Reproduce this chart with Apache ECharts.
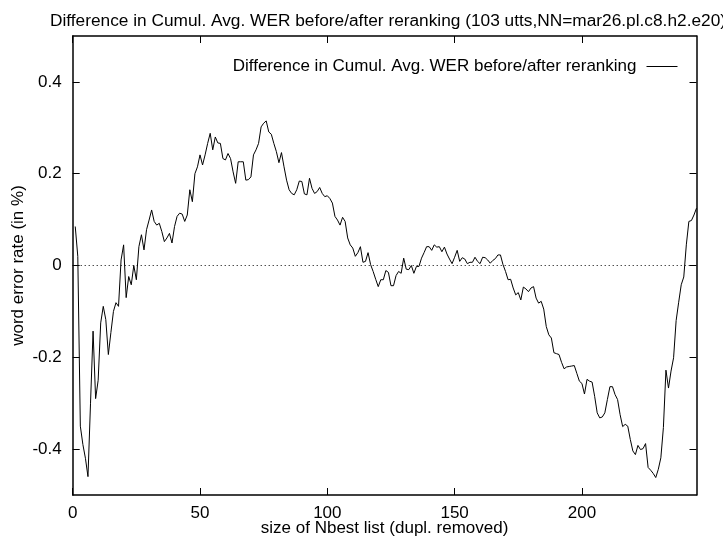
<!DOCTYPE html>
<html>
<head>
<meta charset="utf-8">
<script src="https://cdn.jsdelivr.net/npm/echarts@6/dist/echarts.min.js"></script>
<style>
  html, body { margin: 0; padding: 0; background: #fff; }
  #chart { width: 723px; height: 537px; }
</style>
</head>
<body>
<div id="chart"></div>
<script>
const seriesName = 'Difference in Cumul. Avg. WER before/after reranking';
const xTicks = [0, 50, 100, 150, 200];
const yTicks = [-0.4, -0.2, 0, 0.2, 0.4];

// difference values for Nbest sizes 1..245
const werDiff = [
  0.085, 0.02, -0.35, -0.39, -0.42, -0.46, -0.30, -0.143, -0.29, -0.25,
  -0.125, -0.089, -0.118, -0.194, -0.146, -0.10, -0.081, -0.089, 0.012, 0.045,
  -0.07, -0.024, -0.042, 0.0, -0.031, 0.041, 0.067, 0.034, 0.078, 0.099,
  0.121, 0.096, 0.088, 0.092, 0.074, 0.052, 0.06, 0.07, 0.049, 0.085,
  0.107, 0.114, 0.112, 0.096, 0.11, 0.165, 0.139, 0.20, 0.215, 0.241,
  0.219, 0.241, 0.266, 0.288, 0.252, 0.28, 0.267, 0.266, 0.233, 0.23,
  0.244, 0.233, 0.204, 0.179, 0.226, 0.226, 0.226, 0.186, 0.187, 0.193,
  0.241, 0.252, 0.266, 0.302, 0.31, 0.315, 0.291, 0.286, 0.266, 0.248,
  0.224, 0.246, 0.215, 0.186, 0.165, 0.157, 0.154, 0.165, 0.184, 0.183,
  0.156, 0.154, 0.19, 0.168, 0.157, 0.161, 0.17, 0.157, 0.15, 0.152,
  0.146, 0.136, 0.107, 0.099, 0.088, 0.105, 0.096, 0.06, 0.045, 0.038,
  0.02, 0.028, 0.041, 0.007, 0.009, 0.028, 0.002, -0.013, -0.03, -0.046,
  -0.031, -0.031, -0.011, -0.015, -0.044, -0.044, -0.022, -0.013, -0.017, 0.016,
  -0.008, -0.009, 0.0, -0.017, -0.002, -0.002, 0.016, 0.028, 0.041, 0.041,
  0.033, 0.045, 0.04, 0.041, 0.03, 0.04, 0.025, 0.014, 0.004, 0.018,
  0.033, 0.009, 0.017, 0.014, 0.004, 0.007, 0.007, 0.018, 0.009, 0.004,
  0.018, 0.017, 0.012, 0.005, 0.011, 0.015, 0.023, 0.023, 0.002, -0.013,
  -0.031, -0.03, -0.049, -0.064, -0.059, -0.075, -0.047, -0.051, -0.057, -0.049,
  -0.046, -0.071, -0.082, -0.078, -0.095, -0.133, -0.151, -0.158, -0.19, -0.192,
  -0.194, -0.211, -0.225, -0.221, -0.22, -0.219, -0.218, -0.235, -0.252, -0.257,
  -0.28, -0.248, -0.252, -0.254, -0.285, -0.321, -0.332, -0.33, -0.321, -0.292,
  -0.264, -0.264, -0.281, -0.292, -0.325, -0.351, -0.346, -0.35, -0.379, -0.404,
  -0.412, -0.392, -0.401, -0.399, -0.388, -0.44, -0.446, -0.453, -0.462, -0.444,
  -0.419, -0.353, -0.228, -0.267, -0.23, -0.201, -0.12, -0.08, -0.042, -0.025,
  0.045, 0.096, 0.098, 0.11, 0.125
];
const nbestSize = werDiff.map((v, i) => i + 1);

const chart = echarts.init(document.getElementById('chart'));
const font = 'Liberation Sans, Arial, Helvetica, sans-serif';
const axisLine = { show: true, onZero: false, lineStyle: { color: '#000', width: 1.5 } };
const tickStyle = { color: '#000', width: 1 };
const txt = { fontSize: 17, color: '#000', fontFamily: font };

const fmt = v => (v === 0 ? '0' : v.toFixed(1));

chart.setOption({
  animation: false,
  textStyle: { fontFamily: font },
  title: {
    text: 'Difference in Cumul. Avg. WER before/after reranking (103 utts,NN=mar26.pl.c8.h2.e20)',
    left: 383,
    textAlign: 'center',
    top: 8,
    textStyle: Object.assign({}, txt, { fontWeight: 'normal', fontSize: 17.3 })
  },
  legend: {
    orient: 'horizontal',
    left: 'auto',
    right: 40,
    top: 53,
    bottom: 'auto',
    align: 'right',
    itemWidth: 31,
    itemHeight: 14,
    textStyle: Object.assign({ padding: [0, 5, 0, 0] }, txt),
    itemStyle: { color: 'transparent', borderWidth: 0, opacity: 0 },
    lineStyle: { color: '#000', width: 1 },
    data: [seriesName]
  },
  grid: { left: 72.7, right: 26.5, top: 36, bottom: 42, containLabel: false, outerBoundsMode: 'none' },
  xAxis: [{
    type: 'value', min: 0, max: 245,
    name: 'size of Nbest list (dupl. removed)',
    nameLocation: 'middle', nameGap: 25, nameMoveOverlap: false,
    nameTextStyle: txt,
    axisLine: axisLine,
    axisTick: { inside: true, length: 7, lineStyle: tickStyle, customValues: xTicks },
    axisLabel: Object.assign({ margin: 10, customValues: xTicks }, txt),
    splitLine: { show: false }
  }, {
    type: 'value', min: 0, max: 245, position: 'top',
    axisLine: axisLine,
    axisTick: { inside: true, length: 7, lineStyle: tickStyle, customValues: xTicks },
    axisLabel: { show: false },
    splitLine: { show: false }
  }],
  yAxis: [{
    type: 'value', min: -0.5, max: 0.5,
    name: 'word error rate (in %)',
    nameLocation: 'middle', nameGap: 46, nameMoveOverlap: false,
    nameTextStyle: txt,
    axisLine: axisLine,
    axisTick: { inside: true, length: 7, lineStyle: tickStyle, customValues: yTicks },
    axisLabel: Object.assign({ margin: 11, customValues: yTicks, formatter: fmt }, txt),
    splitLine: { show: false }
  }, {
    type: 'value', min: -0.5, max: 0.5, position: 'right',
    axisLine: axisLine,
    axisTick: { inside: true, length: 7, lineStyle: tickStyle, customValues: yTicks },
    axisLabel: { show: false },
    splitLine: { show: false }
  }],
  series: [{
    name: seriesName,
    type: 'line',
    data: nbestSize.map((x, i) => [x, werDiff[i]]),
    symbol: 'none',
    lineStyle: { color: '#000', width: 1 },
    itemStyle: { color: '#000' },
    markLine: {
      silent: true,
      symbol: ['none', 'none'],
      label: { show: false },
      lineStyle: { color: '#000', type: [1, 3], width: 1 },
      data: [{ yAxis: 0 }]
    }
  }]
});
</script>
</body>
</html>
